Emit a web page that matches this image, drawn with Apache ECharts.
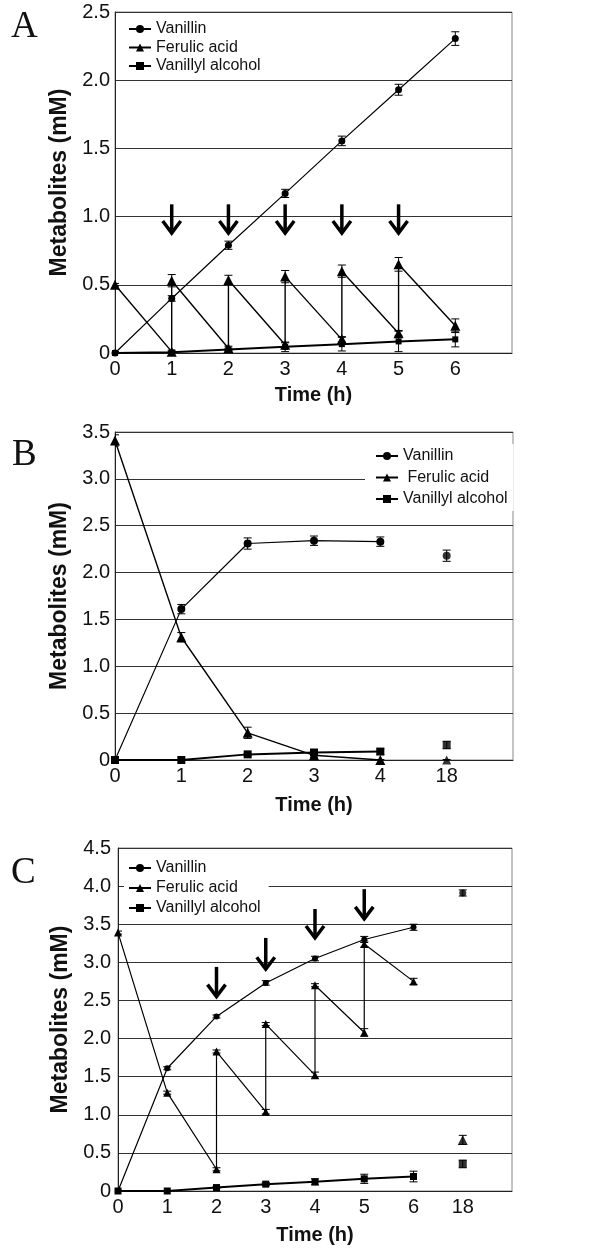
<!DOCTYPE html>
<html>
<head>
<meta charset="utf-8">
<script src="https://cdn.jsdelivr.net/npm/echarts@6/dist/echarts.min.js"></script>
<style>
html,body{margin:0;padding:0;background:#fff;}
#chart{width:600px;height:1253px;}
</style>
</head>
<body>
<div id="chart"></div>
<script>
// ---------- Data ----------
const seriesNames = ['Vanillin', 'Ferulic acid', 'Vanillyl alcohol'];
const panelLabels = ['A', 'B', 'C'];

// Panel A
const ticksA = ['0','1','2','3','4','5','6',''];
const timeA = [0,1,2,3,4,5,6];
const vanA = [0,0.40,0.79,1.17,1.555,1.93,2.305];
const vanErrA = [0.01,0.02,0.03,0.03,0.035,0.04,0.05];
const ferTimeA = [0,1,1,2,2,3,3,4,4,5,5,6];
const ferA = [0.50,0.01,0.53,0.035,0.535,0.06,0.56,0.10,0.60,0.145,0.65,0.20];
const ferErrA = [0.01,0.01,0.045,0.015,0.035,0.015,0.045,0.02,0.045,0.02,0.05,0.05];
const alcA = [0,0.005,0.025,0.045,0.065,0.085,0.10];
const alcErrA = [0,0.005,0.01,0.035,0.05,0.075,0.055];
const arrowTimeA = [1,2,3,4,5];
const arrowTopA = [1.09,1.09,1.09,1.09,1.09];
const arrowTipA = [0.88,0.88,0.88,0.88,0.88];

// Panel B (last point = 18 h, not connected)
const ticksB = ['0','1','2','3','4','18',''];
const timeB = [0,1,2,3,4,5];
const vanB = [0,1.61,2.31,2.34,2.33,2.18];
const vanErrB = [0.01,0.05,0.06,0.05,0.05,0.06];
const ferB = [3.41,1.31,0.29,0.05,0,0];
const ferErrB = [0.06,0.05,0.06,0.02,0.005,0.005];
const alcB = [0,0,0.06,0.08,0.09,0.16];
const alcErrB = [0.005,0.005,0.01,0.02,0.03,0.04];

// Panel C (last point = 18 h, not connected)
const ticksC = ['0','1','2','3','4','5','6','18',''];
const timeC = [0,1,2,3,4,5,6,7];
const vanC = [0,1.61,2.29,2.73,3.05,3.30,3.46,3.91];
const vanErrC = [0.01,0.02,0.02,0.03,0.03,0.04,0.04,0.04];
const ferTimeC = [0,1,2,2,3,3,4,4,5,5,6,7];
const ferC = [3.39,1.29,0.285,1.83,1.04,2.19,1.52,2.70,2.08,3.24,2.75,0.67];
const ferErrC = [0.02,0.02,0.02,0.02,0.03,0.02,0.04,0.02,0.05,0.04,0.04,0.06];
const alcC = [0,0,0.045,0.09,0.12,0.16,0.19,0.355];
const alcErrC = [0.005,0.005,0.01,0.02,0.04,0.06,0.07,0.05];
const arrowTimeC = [2,3,4,5];
const arrowTopC = [2.94,3.32,3.70,3.96];
const arrowTipC = [2.55,2.91,3.32,3.57];

// ---------- Helpers ----------
const FONT = '"Liberation Sans", Arial, sans-serif';
const SERIF = '"Liberation Serif", "Times New Roman", serif';
const pairs = (xs, ys) => xs.map((x, i) => [x, ys[i]]);
const triples = (xs, ys, es) => xs.map((x, i) => [x, ys[i], es[i]]);

function lineS(name, gi, data, symbol, size, width) {
  return {
    name, type: 'line', xAxisIndex: gi, yAxisIndex: gi, data,
    symbol, symbolSize: size, showSymbol: true, showAllSymbol: true,
    lineStyle: { color: '#000', width }, itemStyle: { color: '#000' },
    emphasis: { disabled: true }, z: 4, silent: true
  };
}
function pointS(gi, data, symbol, size) {
  return {
    name: 'iso', type: 'scatter', xAxisIndex: gi, yAxisIndex: gi, data,
    symbol, symbolSize: size, itemStyle: { color: '#000' },
    emphasis: { disabled: true }, z: 4, silent: true
  };
}
function errS(gi, data) {
  return {
    type: 'custom', name: 'err', xAxisIndex: gi, yAxisIndex: gi, data, clip: true, z: 3, silent: true,
    encode: { x: 0, y: 1 },
    renderItem: function (params, api) {
      const x = api.value(0), y = api.value(1), e = api.value(2);
      const lo = api.coord([x, y - e]), hi = api.coord([x, y + e]);
      const w = 4, st = { stroke: '#000', lineWidth: 1 };
      return { type: 'group', children: [
        { type: 'line', shape: { x1: lo[0], y1: lo[1], x2: hi[0], y2: hi[1] }, style: st },
        { type: 'line', shape: { x1: lo[0] - w, y1: lo[1], x2: lo[0] + w, y2: lo[1] }, style: st },
        { type: 'line', shape: { x1: hi[0] - w, y1: hi[1], x2: hi[0] + w, y2: hi[1] }, style: st }
      ]};
    }
  };
}
function arrowS(gi, data) {
  return {
    type: 'custom', name: 'arrow', xAxisIndex: gi, yAxisIndex: gi, data, z: 5, silent: true,
    encode: { x: 0, y: [1, 2] },
    renderItem: function (params, api) {
      const x = api.value(0);
      const top = api.coord([x, api.value(1)]), tip = api.coord([x, api.value(2)]);
      const st = { stroke: '#000', lineWidth: 3.5, fill: null, lineJoin: 'miter' };
      return { type: 'group', children: [
        { type: 'line', shape: { x1: top[0], y1: top[1], x2: tip[0], y2: tip[1] - 2 }, style: st },
        { type: 'polyline', shape: { points: [[tip[0] - 9, tip[1] - 12], [tip[0], tip[1]], [tip[0] + 9, tip[1] - 12]] }, style: st }
      ]};
    }
  };
}
function xAx(gi, max, ticks, nameGap) {
  return {
    gridIndex: gi, type: 'value', min: 0, max, interval: 1,
    axisLine: { show: true, onZero: false, lineStyle: { color: '#222', width: 1 } },
    axisTick: { show: false }, splitLine: { show: false },
    axisLabel: { formatter: v => ticks[v] !== undefined ? ticks[v] : '', fontSize: 20, color: '#111', fontFamily: FONT, margin: 6, showMaxLabel: true },
    name: 'Time (h)', nameLocation: 'middle', nameGap,
    nameTextStyle: { fontSize: 20, fontWeight: 'bold', color: '#111', fontFamily: FONT }
  };
}
function yAx(gi, max, nameGap, margin) {
  return {
    gridIndex: gi, type: 'value', min: 0, max, interval: 0.5,
    axisLine: { show: true, lineStyle: { color: '#222', width: 1 } },
    axisTick: { show: false },
    splitLine: { show: true, lineStyle: { color: '#333', width: 1.2 } },
    axisLabel: { formatter: v => v === 0 ? '0' : v.toFixed(1), fontSize: 20, color: '#111', fontFamily: FONT, margin },
    name: 'Metabolites (mM)', nameLocation: 'middle', nameGap, nameRotate: 90,
    nameTextStyle: { fontSize: 23, fontWeight: 'bold', color: '#111', fontFamily: FONT }
  };
}
function legendC(left, top, gap, padding, bg, formatter) {
  const l = {
    data: seriesNames, orient: 'vertical', left, top, itemGap: gap, padding,
    backgroundColor: bg, itemWidth: 22, itemHeight: 10, selectedMode: false,
    textStyle: { fontSize: 16, lineHeight: 16, color: '#111', fontFamily: FONT }
  };
  if (formatter) l.formatter = formatter;
  return l;
}
function panelTitle(i, left, top) {
  return { text: panelLabels[i], left, top, padding: 0,
    textStyle: { fontFamily: SERIF, fontSize: 37, fontWeight: 'normal', color: '#111' } };
}

const last = a => a.slice(-1);
const init = a => a.slice(0, -1);

const option = {
  animation: false,
  backgroundColor: '#fff',
  title: [ panelTitle(0, 11, 9), panelTitle(1, 12, 437), panelTitle(2, 11, 855) ],
  grid: [
    { left: 115, width: 397, top: 12, height: 341, show: true, borderColor: '#888', borderWidth: 1, backgroundColor: 'transparent' },
    { left: 115, width: 398, top: 432, height: 328, show: true, borderColor: '#888', borderWidth: 1, backgroundColor: 'transparent' },
    { left: 118, width: 394, top: 848, height: 343, show: true, borderColor: '#888', borderWidth: 1, backgroundColor: 'transparent' }
  ],
  xAxis: [ xAx(0, 7, ticksA, 32), xAx(1, 6, ticksB, 35), xAx(2, 8, ticksC, 34) ],
  yAxis: [ yAx(0, 2.5, 31, 5), yAx(1, 3.5, 31, 5), yAx(2, 4.5, 34, 7) ],
  legend: [
    legendC(128, 21, 2.5, 0, 'transparent'),
    legendC(365, 444, 5.5, [4, 6, 4, 10], '#fff', n => n === 'Ferulic acid' ? ' ' + n : n),
    legendC(124, 858, 4, [2, 8, 2, 4], '#fff')
  ],
  series: [
    // Panel A
    errS(0, triples(timeA, vanA, vanErrA)),
    errS(0, triples(ferTimeA, ferA, ferErrA)),
    errS(0, triples(timeA, alcA, alcErrA)),
    lineS('Vanillin', 0, pairs(timeA, vanA), 'circle', 7, 1.2),
    lineS('Ferulic acid', 0, pairs(ferTimeA, ferA), 'triangle', 10, 1.4),
    lineS('Vanillyl alcohol', 0, pairs(timeA, alcA), 'rect', 6, 2),
    arrowS(0, triples(arrowTimeA, arrowTopA, arrowTipA)),
    // Panel B
    errS(1, triples(timeB, vanB, vanErrB)),
    errS(1, triples(timeB, ferB, ferErrB)),
    errS(1, triples(timeB, alcB, alcErrB)),
    lineS('Vanillin', 1, init(pairs(timeB, vanB)), 'circle', 8, 1.2),
    lineS('Ferulic acid', 1, init(pairs(timeB, ferB)), 'triangle', 10, 1.4),
    lineS('Vanillyl alcohol', 1, init(pairs(timeB, alcB)), 'rect', 8, 2),
    pointS(1, last(pairs(timeB, vanB)), 'circle', 8),
    pointS(1, last(pairs(timeB, ferB)), 'triangle', 9),
    pointS(1, last(pairs(timeB, alcB)), 'rect', 8),
    // Panel C
    errS(2, triples(timeC, vanC, vanErrC)),
    errS(2, triples(ferTimeC, ferC, ferErrC)),
    errS(2, triples(timeC, alcC, alcErrC)),
    lineS('Vanillin', 2, init(pairs(timeC, vanC)), 'circle', 6, 1.2),
    lineS('Ferulic acid', 2, init(pairs(ferTimeC, ferC)), 'triangle', 8, 1.2),
    lineS('Vanillyl alcohol', 2, init(pairs(timeC, alcC)), 'rect', 7, 2),
    pointS(2, last(pairs(timeC, vanC)), 'circle', 7),
    pointS(2, last(pairs(ferTimeC, ferC)), 'triangle', 10),
    pointS(2, last(pairs(timeC, alcC)), 'rect', 8),
    arrowS(2, triples(arrowTimeC, arrowTopC, arrowTipC))
  ]
};

const chart = echarts.init(document.getElementById('chart'), null, { renderer: 'canvas' });
chart.setOption(option);
</script>
</body>
</html>
